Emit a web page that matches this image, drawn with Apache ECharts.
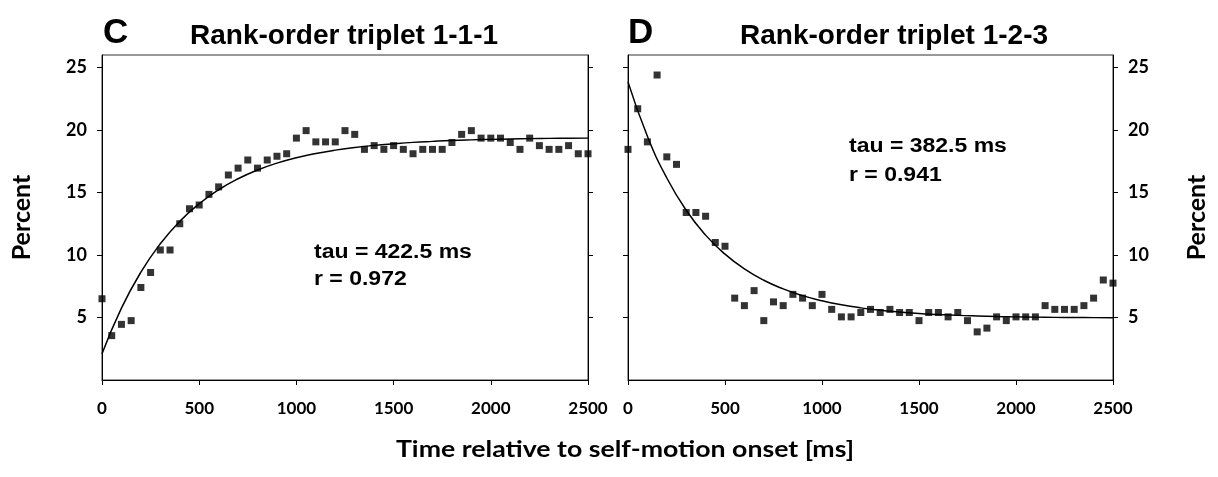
<!DOCTYPE html>
<html><head><meta charset="utf-8">
<script src="https://cdn.jsdelivr.net/npm/echarts@6/dist/echarts.min.js"></script>
<style>html,body{margin:0;padding:0;background:#fff}#c{width:1218px;height:477px}</style>
</head><body><div id="c"></div>
<script>
// ---- data ----
const timesMs = [0,50,100,150,200,250,300,350,400,450,500,550,600,650,700,750,800,850,900,950,1000,1050,1100,1150,1200,1250,1300,1350,1400,1450,1500,1550,1600,1650,1700,1750,1800,1850,1900,1950,2000,2050,2100,2150,2200,2250,2300,2350,2400,2450,2500];
const pct111 = [6.5,3.55,4.45,4.75,7.4,8.6,10.4,10.4,12.5,13.7,14.0,14.85,15.45,16.4,16.95,17.6,16.95,17.6,17.9,18.1,19.35,19.95,19.05,19.05,19.05,19.95,19.65,18.45,18.75,18.45,18.75,18.45,18.1,18.45,18.45,18.45,19.0,19.65,19.95,19.35,19.35,19.35,19.0,18.45,19.35,18.75,18.45,18.45,18.75,18.1,18.1];
const pct123 = [18.45,21.7,19.05,24.4,17.85,17.25,13.4,13.4,13.1,11.0,10.7,6.55,5.95,7.15,4.75,6.25,5.95,6.85,6.55,5.95,6.85,5.65,5.05,5.05,5.4,5.65,5.4,5.65,5.4,5.4,4.75,5.4,5.4,5.05,5.4,4.75,3.85,4.15,5.05,4.75,5.05,5.05,5.05,5.95,5.65,5.65,5.65,5.95,6.55,8.0,7.75];
const fitTimesMs = [0,100,200,300,400,500,600,700,800,900,1000,1100,1200,1300,1400,1500,1600,1700,1800,1900,2000,2100,2200,2300,2400,2500];
const fit111 = [2.10,5.75,8.63,10.90,12.69,14.10,15.22,16.10,16.80,17.35,17.78,18.12,18.39,18.60,18.77,18.90,19.01,19.09,19.16,19.21,19.25,19.28,19.31,19.33,19.34,19.35];
const fit123 = [23.85,19.50,16.16,13.58,11.59,10.07,8.89,7.98,7.29,6.75,6.34,6.02,5.77,5.58,5.44,5.32,5.24,5.17,5.12,5.08,5.05,5.03,5.01,5.00,4.99,4.98];
const xTicks = [0,500,1000,1500,2000,2500];
const yTicks = [5,10,15,20,25];
const panelLetters = ['C','D'];
const panelTitles = ['Rank-order triplet 1-1-1','Rank-order triplet 1-2-3'];
const tauTexts = ['tau = 422.5 ms','tau = 382.5 ms'];
const rTexts = ['r = 0.972','r = 0.941'];
const xTitle = 'Time relative to self-motion onset [ms]';
const yTitle = 'Percent';

// ---- build ----
const zip = (xs, ys) => xs.map((x, i) => [x, ys[i]]);
const LATO = 'Lato';
const ARIAL = 'Liberation Sans';
const grids = [
  {left: 102, top: 55, width: 486, height: 325},
  {left: 628, top: 55, width: 485, height: 325}
];
function xAx(gi){
  return {gridIndex: gi, type: 'value', min: 0, max: 2500, interval: 500,
    axisLine: {show: true, lineStyle: {color: '#000', width: 1}},
    axisTick: {show: true, inside: false, length: 5, lineStyle: {color: '#000'}, customValues: xTicks},
    axisLabel: {show: true, margin: 20, fontFamily: LATO, fontWeight: 'bold', fontSize: 17, color: '#000',
      customValues: xTicks, formatter: v => String(v)},
    splitLine: {show: false}};
}
function yAx(gi, pos, labels){
  const a = {gridIndex: gi, type: 'value', min: 0, max: 26, position: pos,
    axisLine: {show: true, onZero: false, lineStyle: {color: '#000', width: 1}},
    axisTick: {show: true, inside: false, length: 5, lineStyle: {color: '#000'}, customValues: yTicks},
    axisLabel: {show: labels, margin: 15, fontFamily: LATO, fontWeight: 'bold', fontSize: 18, color: '#000',
      customValues: yTicks, formatter: v => String(v)},
    splitLine: {show: false}};
  if (labels) {
    a.name = yTitle; a.nameLocation = 'middle'; a.nameRotate = 90;
    a.nameGap = pos === 'left' ? 68 : 71;
    a.nameTextStyle = {fontFamily: LATO, fontWeight: 'bold', fontSize: 25, color: '#000'};
  }
  return a;
}
const series = [];
[[pct111, fit111], [pct123, fit123]].forEach((d, gi) => {
  series.push({type: 'line', xAxisIndex: gi, yAxisIndex: gi*2, data: zip(fitTimesMs, d[1]), smooth: true,
    symbol: 'none', lineStyle: {color: '#000', width: 1.5}, silent: true, z: 2});
  series.push({type: 'scatter', xAxisIndex: gi, yAxisIndex: gi*2, data: zip(timesMs, d[0]),
    symbol: 'rect', symbolSize: 7, itemStyle: {color: '#000'}, silent: true, z: 3});
});
const letterX = [103, 628], titleX = [190, 740];
const annX = [314, 849], annY = [252, 146.5], annY2 = [279, 175];
const graphic = [];
for (let i = 0; i < 2; i++) {
  graphic.push({type: 'text', x: letterX[i], y: 33, style: {x: 0, y: 0, text: panelLetters[i], font: 'bold 35px "' + ARIAL + '"', fill: '#000', verticalAlign: 'middle'}});
  graphic.push({type: 'text', x: titleX[i], y: 36, style: {x: 0, y: 0, text: panelTitles[i], font: 'bold 28px "' + ARIAL + '"', fill: '#000', verticalAlign: 'middle'}});
  graphic.push({type: 'text', x: annX[i], y: annY[i], scaleX: 1.15, style: {x: 0, y: 0, text: tauTexts[i], font: 'bold 20px "' + ARIAL + '"', fill: '#000', verticalAlign: 'middle'}});
  graphic.push({type: 'text', x: annX[i], y: annY2[i], scaleX: 1.15, style: {x: 0, y: 0, text: rTexts[i], font: 'bold 20px "' + ARIAL + '"', fill: '#000', verticalAlign: 'middle'}});
}
graphic.push({type: 'text', x: 625, y: 450, scaleX: 1.16, style: {x: 0, y: 0, text: xTitle, font: 'bold 23px ' + LATO, fill: '#000', align: 'center', verticalAlign: 'middle'}});

const chart = echarts.init(document.getElementById('c'), null, {renderer: 'canvas'});
chart.setOption({
  animation: false,
  backgroundColor: '#fff',
  grid: grids.map(g => Object.assign({show: true, borderColor: '#333', borderWidth: 1, backgroundColor: 'transparent', containLabel: false}, g)),
  xAxis: [xAx(0), xAx(1)],
  yAxis: [yAx(0, 'left', true), yAx(0, 'right', false), yAx(1, 'right', true), yAx(1, 'left', false)],
  series: series,
  graphic: graphic
});
</script></body></html>
